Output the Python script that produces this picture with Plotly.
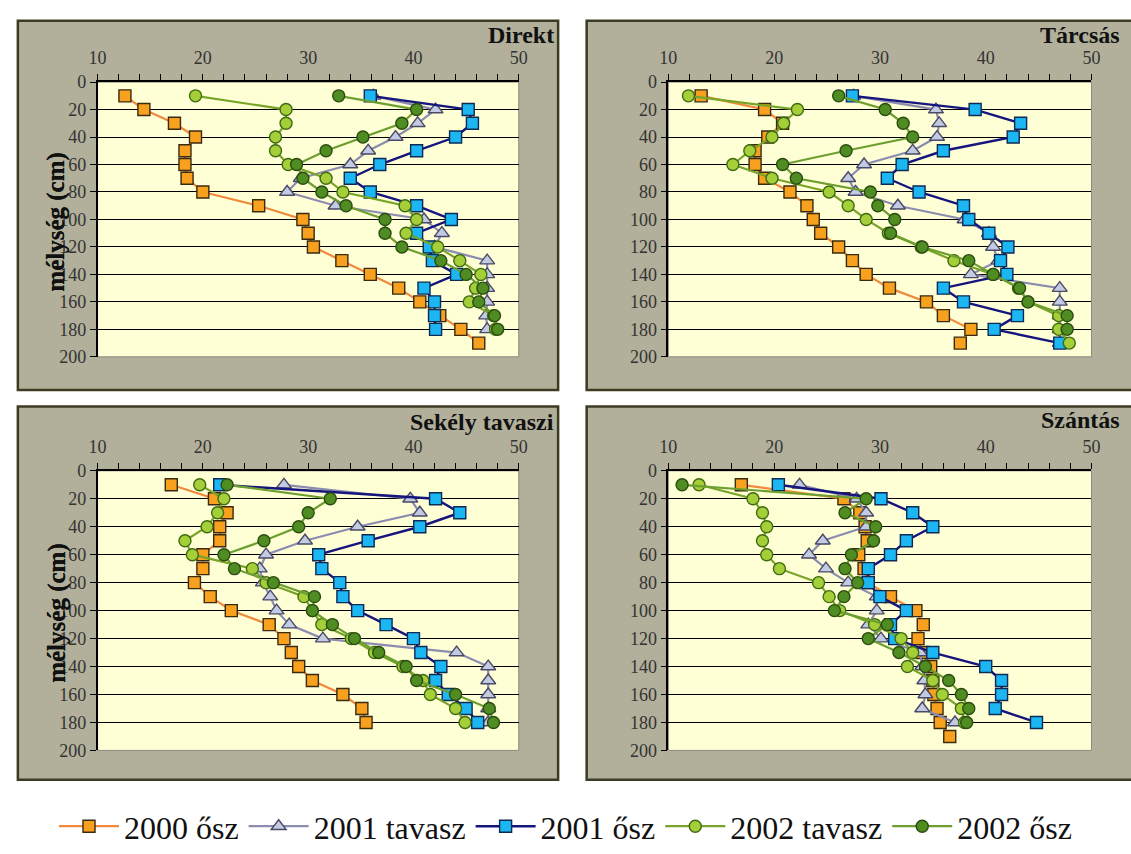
import plotly.graph_objects as go

# ---------------- data ----------------
depth_to_180 = [10, 20, 30, 40, 50, 60, 70, 80, 90, 100, 110, 120, 130, 140, 150, 160, 170, 180]
depth_to_190 = [10, 20, 30, 40, 50, 60, 70, 80, 90, 100, 110, 120, 130, 140, 150, 160, 170, 180, 190]

series_names = ["2000 ősz", "2001 tavasz", "2001 ősz", "2002 tavasz", "2002 ősz"]
panel_titles = ["Direkt", "Tárcsás", "Sekély tavaszi", "Szántás"]
x_tick_values = [10, 20, 30, 40, 50]
y_tick_values = [0, 20, 40, 60, 80, 100, 120, 140, 160, 180, 200]
y_axis_title = "mélység (cm)"

# Direkt
direkt_2000_osz = [12.6, 14.4, 17.3, 19.3, 18.3, 18.3, 18.5, 20.0, 25.3, 29.5, 30.0, 30.5, 33.2, 35.9, 38.6, 40.6, 42.5, 44.5, 46.2]
direkt_2001_tavasz = [36.2, 42.1, 40.4, 38.3, 35.7, 34.0, 29.3, 28.0, 32.6, 41.0, 42.7, 42.0, 47.0, 47.0, 47.0, 47.0, 46.9, 47.0]
direkt_2001_osz = [35.9, 45.2, 45.6, 44.0, 40.3, 36.8, 34.0, 35.9, 40.3, 43.6, 40.3, 41.5, 41.8, 44.1, 41.0, 42.0, 42.0, 42.1]
direkt_2002_tavasz = [19.3, 27.9, 27.9, 26.9, 26.9, 28.1, 31.7, 33.3, 39.2, 40.3, 39.3, 42.3, 44.4, 46.4, 45.9, 45.3, 47.6, 47.8]
direkt_2002_osz = [32.9, 40.3, 38.9, 35.2, 31.7, 28.9, 29.5, 31.3, 33.6, 37.3, 37.3, 38.9, 42.6, 45.0, 46.6, 46.2, 47.7, 48.0]

# Tárcsás
tarcsas_2000_osz = [13.1, 19.1, 20.8, 19.4, 18.2, 18.2, 19.1, 21.5, 23.1, 23.7, 24.4, 26.1, 27.4, 28.7, 30.9, 34.4, 36.0, 38.6, 37.6]
tarcsas_2001_tavasz = [27.5, 35.3, 35.6, 35.4, 33.1, 28.5, 27.0, 27.7, 31.7, 38.0, 40.3, 40.7, 41.2, 38.6, 47.0, 47.0, 47.0, 47.0, 47.0]
tarcsas_2001_osz = [27.4, 39.0, 43.3, 42.6, 36.0, 32.1, 30.7, 33.7, 37.9, 38.4, 40.3, 42.1, 41.4, 42.0, 36.0, 37.9, 43.0, 40.8, 47.0]
tarcsas_2002_tavasz = [11.9, 22.2, 20.9, 19.8, 17.7, 16.1, 19.8, 25.2, 27.0, 28.7, 30.8, 33.9, 37.0, 40.7, 43.1, 44.0, 46.9, 46.9, 47.9]
tarcsas_2002_osz = [26.1, 30.5, 32.2, 33.1, 26.8, 20.8, 22.1, 29.1, 29.8, 31.4, 31.0, 34.0, 38.4, 40.7, 43.2, 44.0, 47.7, 47.7]

# Sekély tavaszi
sekely_2000_osz = [17.0, 21.1, 22.3, 21.6, 21.6, 20.0, 20.0, 19.2, 20.7, 22.7, 26.3, 27.7, 28.4, 29.1, 30.4, 33.3, 35.1, 35.5]
sekely_2001_tavasz = [27.7, 39.7, 40.6, 34.7, 29.7, 26.0, 25.4, 25.7, 26.4, 27.0, 28.2, 31.4, 44.1, 47.1, 47.1, 47.1, 47.1, 47.1]
sekely_2001_osz = [21.6, 42.1, 44.4, 40.6, 35.7, 31.0, 31.3, 33.0, 33.3, 34.7, 37.4, 40.0, 40.7, 42.6, 42.1, 43.3, 45.0, 46.1]
sekely_2002_tavasz = [19.7, 22.0, 21.4, 20.4, 18.3, 19.0, 24.7, 26.0, 29.6, 30.4, 31.3, 34.1, 36.3, 39.0, 40.9, 41.6, 44.0, 44.9]
sekely_2002_osz = [22.3, 32.1, 30.0, 29.1, 25.8, 22.0, 23.0, 26.7, 30.6, 30.4, 32.3, 34.4, 36.7, 39.3, 40.3, 44.0, 47.2, 47.6]

# Szántás
szantas_2000_osz = [16.9, 26.6, 28.1, 28.6, 28.8, 28.0, 28.5, 28.9, 31.0, 33.4, 34.1, 33.6, 34.0, 34.8, 35.0, 35.1, 35.4, 35.7, 36.6]
szantas_2001_tavasz = [22.4, 27.8, 28.7, 28.7, 24.6, 23.3, 24.9, 27.0, 29.7, 29.7, 28.9, 30.1, 33.8, 34.0, 34.2, 34.3, 34.0, 37.1]
szantas_2001_osz = [20.4, 30.1, 33.1, 35.0, 32.5, 31.0, 28.9, 28.9, 30.0, 32.5, 31.0, 31.4, 35.0, 40.0, 41.5, 41.5, 40.9, 44.8]
szantas_2002_tavasz = [12.9, 18.0, 18.9, 19.3, 18.9, 19.3, 20.5, 24.2, 25.2, 26.2, 29.5, 32.0, 33.1, 32.6, 35.0, 35.9, 37.7, 38.0]
szantas_2002_osz = [11.3, 28.7, 26.7, 29.6, 29.4, 27.3, 26.7, 27.9, 26.6, 25.7, 30.7, 28.9, 31.8, 34.3, 36.5, 37.7, 38.4, 38.2]

panels = [
    [(direkt_2000_osz, depth_to_190), (direkt_2001_tavasz, depth_to_180), (direkt_2001_osz, depth_to_180),
     (direkt_2002_tavasz, depth_to_180), (direkt_2002_osz, depth_to_180)],
    [(tarcsas_2000_osz, depth_to_190), (tarcsas_2001_tavasz, depth_to_190), (tarcsas_2001_osz, depth_to_190),
     (tarcsas_2002_tavasz, depth_to_190), (tarcsas_2002_osz, depth_to_180)],
    [(sekely_2000_osz, depth_to_180), (sekely_2001_tavasz, depth_to_180), (sekely_2001_osz, depth_to_180),
     (sekely_2002_tavasz, depth_to_180), (sekely_2002_osz, depth_to_180)],
    [(szantas_2000_osz, depth_to_190), (szantas_2001_tavasz, depth_to_180), (szantas_2001_osz, depth_to_180),
     (szantas_2002_tavasz, depth_to_180), (szantas_2002_osz, depth_to_180)],
]

# ---------------- styles ----------------
W, H = 1131, 854
SERIF = "Liberation Serif, Times New Roman, serif"

styles = [
    dict(line=dict(color="#f08a3c", width=2.2),
         marker=dict(symbol="square", size=12, color="#f7a11e", line=dict(color="#3a2a10", width=1.4))),
    dict(line=dict(color="#8c8cb0", width=2.2),
         marker=dict(symbol="triangle-up", size=13, color="#c3cbe3", line=dict(color="#4a4a66", width=1.4))),
    dict(line=dict(color="#15157e", width=2.4),
         marker=dict(symbol="square", size=12, color="#1cb6f2", line=dict(color="#0d2a55", width=1.4))),
    dict(line=dict(color="#78a428", width=2.2),
         marker=dict(symbol="circle", size=12, color="#a5cf38", line=dict(color="#3e6a12", width=1.4))),
    dict(line=dict(color="#6c9e30", width=2.2),
         marker=dict(symbol="circle", size=12, color="#4f8c22", line=dict(color="#2b4c10", width=1.4))),
]

# pixel layout of plot areas (x0, x1, y0, y1) and outer frames
plot_px = [(90, 518, 74, 356), (670, 1100, 74, 356), (90, 518, 473, 760), (670, 1100, 473, 760)]
frame_px = [(9, 558, 11, 390), (587, 1145, 11, 390), (9, 558, 407, 790), (587, 1145, 407, 790)]
title_px = [(556, 26), (1131, 26), (556, 423), (1131, 421)]


def fx(p):
    return p / W


def fy(p):
    return 1 - p / H


fig = go.Figure()

for i, panel in enumerate(panels):
    ax = "" if i == 0 else str(i + 1)
    for j, (vals, depths) in enumerate(panel):
        fig.add_trace(go.Scatter(
            x=vals, y=depths, mode="lines+markers", name=series_names[j],
            xaxis="x" + ax, yaxis="y" + ax, showlegend=(i == 0),
            line=styles[j]["line"], marker=styles[j]["marker"], cliponaxis=False,
        ))

layout = dict(
    width=W, height=H, margin=dict(l=0, r=0, t=0, b=0),
    paper_bgcolor="white", plot_bgcolor="rgba(0,0,0,0)",
    font=dict(family=SERIF, color="#222222"),
    showlegend=True,
    legend=dict(orientation="h", x=0.5, xanchor="center", y=fy(838), yanchor="middle",
                font=dict(family=SERIF, size=32, color="#111111"), itemwidth=60,
                bgcolor="rgba(0,0,0,0)", traceorder="normal"),
)

shapes = []
annotations = []
for i in range(4):
    ax = "" if i == 0 else str(i + 1)
    x0, x1, y0, y1 = plot_px[i]
    layout["xaxis" + ax] = dict(
        domain=[fx(x0), fx(x1)], anchor="y" + ax, side="top", range=[10, 50],
        tickvals=x_tick_values, ticktext=[str(v) for v in x_tick_values],
        ticks="outside", ticklen=6, tickcolor="black", tickwidth=1,
        minor=dict(dtick=2, tick0=10, ticks="outside", ticklen=6, tickcolor="black", showgrid=False),
        showline=True, linecolor="black", linewidth=1.5, showgrid=False, zeroline=False,
        tickfont=dict(family=SERIF, size=18, color="#333333"), ticklabelstandoff=3,
    )
    layout["yaxis" + ax] = dict(
        domain=[fy(y1), fy(y0)], anchor="x" + ax, range=[200, 0],
        tickvals=y_tick_values, ticks="outside", ticklen=6, tickcolor="black",
        showline=True, linecolor="black", linewidth=1.5,
        showgrid=True, gridcolor="black", gridwidth=1, zeroline=False,
        tickfont=dict(family=SERIF, size=18, color="#333333"),
    )
    fx0, fx1, fy0, fy1 = frame_px[i]
    shapes.append(dict(type="rect", xref="paper", yref="paper", x0=fx(fx0), x1=fx(fx1), y0=fy(fy1), y1=fy(fy0),
                       fillcolor="#b2b09a", line=dict(color="#3c3c22", width=2.5), layer="below"))
    shapes.append(dict(type="rect", xref="paper", yref="paper", x0=fx(x0), x1=fx(x1), y0=fy(y1), y1=fy(y0),
                       fillcolor="#ffffd6", line=dict(color="#8a8a80", width=1), layer="below"))
    tx, ty = title_px[i]
    annotations.append(dict(text="<b>" + panel_titles[i] + "</b>", xref="paper", yref="paper",
                            x=fx(tx), y=fy(ty), xanchor="right", yanchor="middle", showarrow=False,
                            font=dict(family=SERIF, size=24, color="#111111")))
    annotations.append(dict(text="<b>" + y_axis_title + "</b>", xref="paper", yref="paper",
                            x=fx(48), y=fy((y0 + y1) / 2 + 2), xanchor="center", yanchor="middle",
                            textangle=-90, showarrow=False,
                            font=dict(family=SERIF, size=25, color="#111111")))

layout["shapes"] = shapes
layout["annotations"] = annotations
fig.update_layout(**layout)

fig.write_html("out.html",
               post_script="document.body.style.margin='0';document.body.style.overflow='hidden';")
